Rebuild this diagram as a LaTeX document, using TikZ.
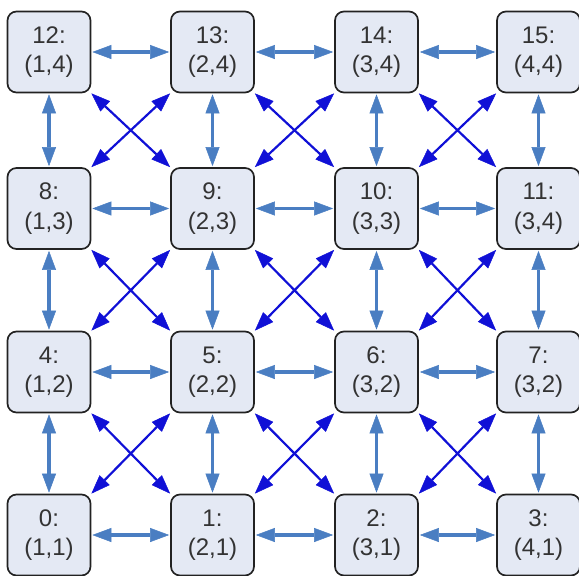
\documentclass[tikz,border=0pt]{standalone}
\usepackage{fontspec}
\setmainfont{Liberation Sans}
\usetikzlibrary{arrows.meta}
\definecolor{boxfill}{HTML}{E4E9F4}
\definecolor{boxline}{HTML}{222222}
\definecolor{textgray}{HTML}{333333}
\definecolor{gridarrow}{HTML}{4A7EC2}
\definecolor{diagarrow}{HTML}{1010D6}
\begin{document}
\begin{tikzpicture}[x=1pt,y=1pt,
  cell/.style={draw=boxline, line width=1.7pt, fill=boxfill, rounded corners=9pt,
    minimum width=83pt, minimum height=81pt, inner sep=0pt, align=center,
    text=textgray, font=\fontsize{24}{29.5}\selectfont},
  gridtip/.tip={Triangle[length=19pt,width=14pt,line width=0.5pt]},
  diagtip/.tip={Triangle[length=19pt,width=14pt,line width=0.5pt]},
  link/.style={draw=gridarrow, line width=3.2pt, gridtip-gridtip,
    shorten <=1pt, shorten >=1pt},
  cross/.style={draw=diagarrow, line width=2.2pt, diagtip-diagtip}]
\useasboundingbox (0,0) rectangle (579,-576);

% grid of states: index = 4*row + column
\node[cell] (n12) at (49,-52)    {12:\\(1,4)};
\node[cell] (n13) at (212.5,-52) {13:\\(2,4)};
\node[cell] (n14) at (376.5,-52) {14:\\(3,4)};
\node[cell] (n15) at (538.5,-52) {15:\\(4,4)};

\node[cell] (n8)  at (49,-208.5)    {8:\\(1,3)};
\node[cell] (n9)  at (212.5,-208.5) {9:\\(2,3)};
\node[cell] (n10) at (376.5,-208.5) {10:\\(3,3)};
\node[cell] (n11) at (538.5,-208.5) {11:\\(3,4)};

\node[cell] (n4) at (49,-372)    {4:\\(1,2)};
\node[cell] (n5) at (212.5,-372) {5:\\(2,2)};
\node[cell] (n6) at (376.5,-372) {6:\\(3,2)};
\node[cell] (n7) at (538.5,-372) {7:\\(3,2)};

\node[cell] (n0) at (49,-535)    {0:\\(1,1)};
\node[cell] (n1) at (212.5,-535) {1:\\(2,1)};
\node[cell] (n2) at (376.5,-535) {2:\\(3,1)};
\node[cell] (n3) at (538.5,-535) {3:\\(4,1)};

% horizontal neighbours
\foreach \r in {0,1,2,3}
  \foreach \c in {0,1,2} {
    \pgfmathtruncatemacro{\a}{4*\r+\c}
    \pgfmathtruncatemacro{\b}{4*\r+\c+1}
    \draw[link] (n\a.east) -- (n\b.west);
  }

% vertical neighbours
\foreach \r in {0,1,2}
  \foreach \c in {0,1,2,3} {
    \pgfmathtruncatemacro{\a}{4*\r+\c}
    \pgfmathtruncatemacro{\b}{4*(\r+1)+\c}
    \draw[link] (n\a.north) -- (n\b.south);
  }

% diagonal neighbours
\foreach \r in {0,1,2}
  \foreach \c in {0,1,2} {
    \pgfmathtruncatemacro{\a}{4*\r+\c}
    \pgfmathtruncatemacro{\b}{4*\r+\c+1}
    \pgfmathtruncatemacro{\u}{4*(\r+1)+\c}
    \pgfmathtruncatemacro{\v}{4*(\r+1)+\c+1}
    \draw[cross] (n\a.north east) -- (n\v.south west);
    \draw[cross] (n\b.north west) -- (n\u.south east);
  }
\end{tikzpicture}
\end{document}
